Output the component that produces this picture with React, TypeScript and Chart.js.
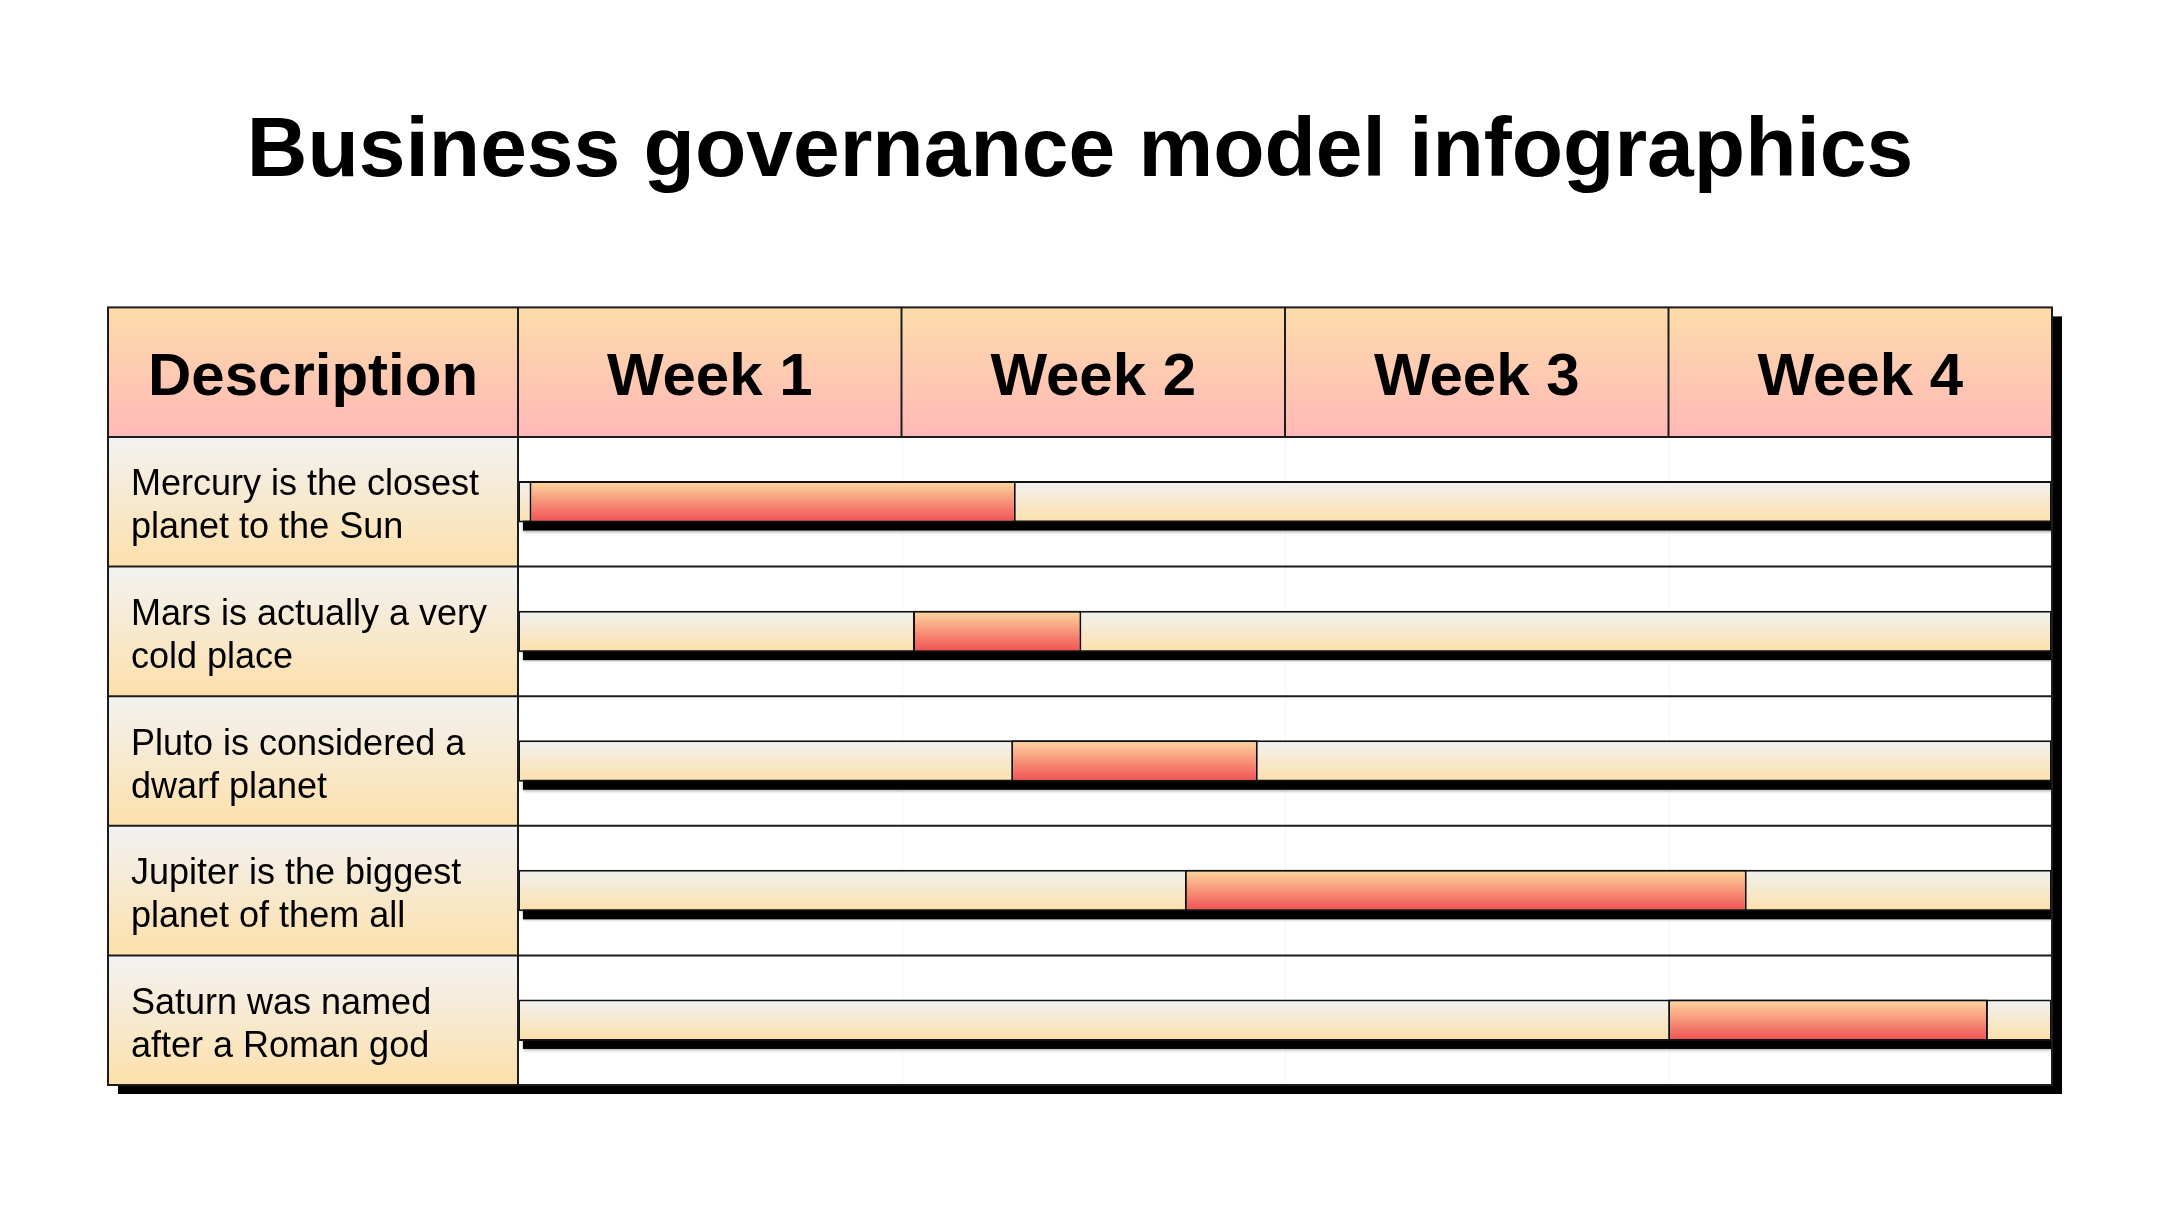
import { useEffect, useRef } from "react";
import { Chart, registerables } from "chart.js";

Chart.register(...registerables);

// ---------- data ----------
const titleText = "Business governance model infographics";
const headerLabel = "Description";
const weekLabels = ["Week 1", "Week 2", "Week 3", "Week 4"];
const descriptions = [
  ["Mercury is the closest", "planet to the Sun"],
  ["Mars is actually a very", "cold place"],
  ["Pluto is considered a", "dwarf planet"],
  ["Jupiter is the biggest", "planet of them all"],
  ["Saturn was named", "after a Roman god"],
];
const taskStart = [0.03, 1.03, 1.286, 1.739, 2.999];
const taskEnd = [1.298, 1.469, 1.929, 3.204, 3.833];
const trackStart = [0, 0, 0, 0, 0];
const trackEnd = [4, 4, 4, 4, 4];

// ---------- styling ----------
const W = 2160;
const H = 1215;
const FONT = "'Liberation Sans', Arial, Helvetica, sans-serif";
const DESC_WIDTH = 410;
const BAR_FRAC = 0.32;
const LINE = "#1c1c1c";

function barGradient(c0: string, c1: string) {
  return (ctx: any) => {
    const chart = ctx.chart;
    const ys = chart.scales && chart.scales.y;
    const area = chart.chartArea;
    if (!ys || !area || ctx.dataIndex == null) return c1;
    const cy = ys.getPixelForValue(ctx.dataIndex);
    const half = ((area.bottom - area.top) / descriptions.length) * BAR_FRAC / 2;
    const g = chart.ctx.createLinearGradient(0, cy - half, 0, cy + half);
    g.addColorStop(0, c0);
    g.addColorStop(1, c1);
    return g;
  };
}

const tablePlugin = {
  id: "tableDecor",
  beforeDraw(chart: any) {
    const { ctx, chartArea: a, scales } = chart;
    const ys = scales.y;
    const xs = scales.x;
    const n = descriptions.length;
    const rowH = (a.bottom - a.top) / n;
    const left = a.left - DESC_WIDTH;
    const top = a.top - rowH;
    ctx.save();
    ctx.fillStyle = "#ffffff";
    ctx.fillRect(0, 0, chart.width, chart.height);

    // title
    ctx.fillStyle = "#000";
    ctx.font = `bold 84px ${FONT}`;
    ctx.textAlign = "center";
    ctx.textBaseline = "alphabetic";
    ctx.fillText(titleText, chart.width / 2, 176);

    // table drop shadow
    ctx.fillStyle = "#000";
    ctx.fillRect(left + 10, top + 9, a.right - left, a.bottom - top);
    ctx.fillStyle = "#fff";
    ctx.fillRect(left, top, a.right - left, a.bottom - top);

    // header
    const hg = ctx.createLinearGradient(0, top, 0, a.top);
    hg.addColorStop(0, "#fddcaa");
    hg.addColorStop(1, "#ffb8b8");
    ctx.fillStyle = hg;
    ctx.fillRect(left, top, a.right - left, rowH);

    // description cells
    for (let i = 0; i < n; i++) {
      const cy = ys.getPixelForValue(i);
      const t = cy - rowH / 2;
      const g = ctx.createLinearGradient(0, t, 0, t + rowH);
      g.addColorStop(0, "#f2f2f2");
      g.addColorStop(1, "#fde0ab");
      ctx.fillStyle = g;
      ctx.fillRect(left, t, DESC_WIDTH, rowH);
    }

    // faint week guides in body
    ctx.strokeStyle = "#f6f6f6";
    ctx.lineWidth = 1;
    for (let w = 1; w < weekLabels.length; w++) {
      const x = Math.round(xs.getPixelForValue(w)) + 0.5;
      ctx.beginPath();
      ctx.moveTo(x, a.top);
      ctx.lineTo(x, a.bottom);
      ctx.stroke();
    }

    // texts
    ctx.fillStyle = "#000";
    ctx.font = `bold 60px ${FONT}`;
    ctx.textAlign = "center";
    const hb = top + rowH / 2 + 23;
    ctx.fillText(headerLabel, left + DESC_WIDTH / 2, hb);
    weekLabels.forEach((lab, w) => {
      ctx.fillText(lab, xs.getPixelForValue(w + 0.5), hb);
    });

    ctx.font = `36px ${FONT}`;
    ctx.textAlign = "left";
    for (let i = 0; i < n; i++) {
      const cy = ys.getPixelForValue(i);
      const lines = descriptions[i];
      const lh = 43;
      lines.forEach((ln, k) => {
        const base = cy + (k - (lines.length - 1) / 2) * lh + 15;
        ctx.fillText(ln, left + 23, base);
      });
    }
    ctx.restore();
  },
  beforeDatasetsDraw(chart: any) {
    const { ctx } = chart;
    const meta = chart.getDatasetMeta(1);
    ctx.save();
    ctx.fillStyle = "#000";
    ctx.shadowColor = "rgba(0,0,0,0.35)";
    ctx.shadowBlur = 3;
    ctx.shadowOffsetY = 1;
    meta.data.forEach((el: any) => {
      const p = el.getProps(["x", "y", "base", "height"], true);
      const l = Math.min(p.x, p.base);
      const wdt = Math.abs(p.x - p.base);
      ctx.fillRect(l + 5, p.y - p.height / 2 + 8, wdt, p.height);
    });
    ctx.restore();
  },
  afterDatasetsDraw(chart: any) {
    const { ctx, chartArea: a, scales } = chart;
    const ys = scales.y;
    const xs = scales.x;
    const n = descriptions.length;
    const rowH = (a.bottom - a.top) / n;
    const left = a.left - DESC_WIDTH;
    const top = a.top - rowH;
    ctx.save();
    ctx.strokeStyle = LINE;
    ctx.lineWidth = 2;
    // row lines
    for (let i = 0; i < n; i++) {
      const yb = ys.getPixelForValue(i) - rowH / 2;
      ctx.beginPath();
      ctx.moveTo(left, yb);
      ctx.lineTo(a.right, yb);
      ctx.stroke();
    }
    // description column divider
    ctx.beginPath();
    ctx.moveTo(a.left, top);
    ctx.lineTo(a.left, a.bottom);
    ctx.stroke();
    // header week dividers
    for (let w = 1; w < weekLabels.length; w++) {
      const x = xs.getPixelForValue(w);
      ctx.beginPath();
      ctx.moveTo(x, top);
      ctx.lineTo(x, a.top);
      ctx.stroke();
    }
    // outer border
    ctx.strokeRect(left, top, a.right - left, a.bottom - top);
    ctx.restore();
  },
};

export default function App() {
  const ref = useRef<HTMLCanvasElement | null>(null);
  useEffect(() => {
    document.body.style.margin = "0";
    const canvas = ref.current;
    if (!canvas) return;
    const chart = new Chart(canvas, {
      type: "bar",
      data: {
        labels: descriptions.map((d) => d.join(" ")),
        datasets: [
          {
            label: "Task",
            data: taskStart.map((s, i) => [s, taskEnd[i]]),
            order: 0,
            grouped: false,
            backgroundColor: barGradient("#fdd8a0", "#f04f52"),
            borderColor: "#111",
            borderWidth: 2,
            borderSkipped: false,
            categoryPercentage: BAR_FRAC,
            barPercentage: 1,
          },
          {
            label: "Track",
            data: trackStart.map((s, i) => [s, trackEnd[i]]),
            order: 1,
            grouped: false,
            backgroundColor: barGradient("#f1f1f1", "#fde0ab"),
            borderColor: "#111",
            borderWidth: 2,
            borderSkipped: false,
            categoryPercentage: BAR_FRAC,
            barPercentage: 1,
          },
        ] as any,
      },
      options: {
        indexAxis: "y",
        responsive: false,
        animation: false,
        devicePixelRatio: 1,
        layout: { padding: { left: 518, right: 108, top: 437, bottom: 130 } },
        scales: {
          x: { type: "linear", min: 0, max: 4, display: false, grid: { display: false } },
          y: { type: "category", display: false, grid: { display: false } },
        },
        plugins: {
          legend: { display: false },
          tooltip: { enabled: false },
          title: { display: false },
        },
      } as any,
      plugins: [tablePlugin],
    });
    return () => chart.destroy();
  }, []);
  return (
    <div style={{ width: W, height: H }}>
      <canvas ref={ref} width={W} height={H} style={{ display: "block" }} />
    </div>
  );
}
